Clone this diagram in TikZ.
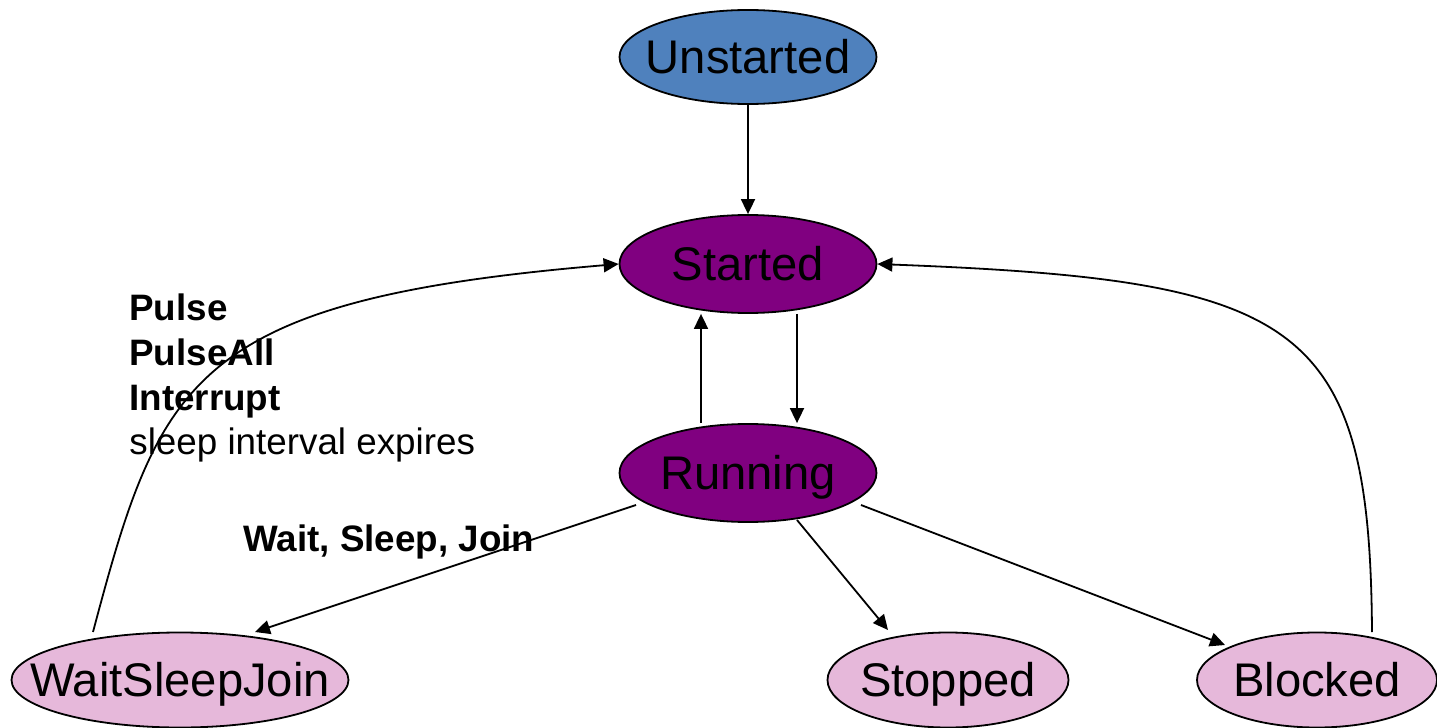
\documentclass[tikz,border=0pt]{standalone}
\usepackage{fontspec}
\setmainfont{Liberation Sans}
\usetikzlibrary{shapes.geometric,arrows.meta}

\definecolor{stateblue}{RGB}{79,129,189}
\definecolor{statepurple}{RGB}{128,0,128}
\definecolor{statepink}{RGB}{230,184,218}

% the ellipse size is fixed by the minimum sizes, not by the text;
% the capitals sit centred in the ellipse
\newcommand{\statetext}[1]{\makebox[0pt]{\smash{#1}\rule{0pt}{16.9pt}}}

\tikzset{
  state/.style={ellipse, draw=black, line width=0.9pt, inner sep=0pt,
    minimum width=128.5pt, minimum height=49pt,
    font=\fontsize{23.6}{28}\selectfont},
  endstate/.style={state, fill=statepink, minimum height=47.5pt},
  trans/.style={draw=black, line width=0.9pt,
    -{Triangle[length=7.5pt,width=7pt]}},
  lbl/.style={anchor=base west, inner sep=0pt,
    font=\fontsize{18.4}{22}\selectfont}
}

\begin{document}
\begin{tikzpicture}[x=0.5pt, y=-0.5pt]
  \useasboundingbox (0,0) rectangle (1437,728);

  % states
  \node[state, fill=stateblue, minimum height=47pt] (unstarted) at (748,57) {\statetext{Unstarted}};
  \node[state, fill=statepurple] (started) at (748,264) {\statetext{Started}};
  \node[state, fill=statepurple] (running) at (748,473) {\statetext{Running}};
  \node[endstate, minimum width=168.5pt] (wsj) at (180,680) {\statetext{WaitSleepJoin}};
  \node[endstate, minimum width=120.5pt] (stopped) at (948,680) {\statetext{Stopped}};
  \node[endstate, minimum width=120pt] (blocked) at (1317,680) {\statetext{Blocked}};

  % transitions between states
  \draw[trans] (unstarted.south) -- (started.north);
  \draw[trans] ([xshift=24.5pt]started.south) -- ([xshift=24.5pt]running.north);
  \draw[trans] ([xshift=-23.5pt]running.north) -- ([xshift=-23.5pt]started.south);
  \draw[trans] ([shift={(-112,32)}]running.center) -- ([shift={(75,-48)}]wsj.center);
  \draw[trans] ([shift={(49,47)}]running.center) -- ([shift={(-60,-50)}]stopped.center);
  \draw[trans] ([shift={(113,32)}]running.center) -- ([shift={(-92,-35)}]blocked.center);

  % returns to Started
  \draw[trans] ([shift={(-87,-48)}]wsj.center)
    .. controls (160,380) and (190,300) .. (started.west);
  \draw[trans] ([shift={(55,-48)}]blocked.center)
    .. controls (1370,320) and (1300,280) .. (started.east);

  % transition labels
  \node[lbl, font=\fontsize{18.4}{22}\selectfont\bfseries] (lpulse) at (129,320) {Pulse};
  \node[lbl, font=\fontsize{18.4}{22}\selectfont\bfseries] (lpulseall) at (129,365) {PulseAll};
  \node[lbl, font=\fontsize{18.4}{22}\selectfont\bfseries] (linterrupt) at (129,410) {Interrupt};
  \node[lbl] (lsleep) at (129,454) {sleep interval expires};
  \node[lbl, font=\fontsize{18.4}{22}\selectfont\bfseries] (lwait) at (243,551) {Wait, Sleep, Join};
\end{tikzpicture}
\end{document}
